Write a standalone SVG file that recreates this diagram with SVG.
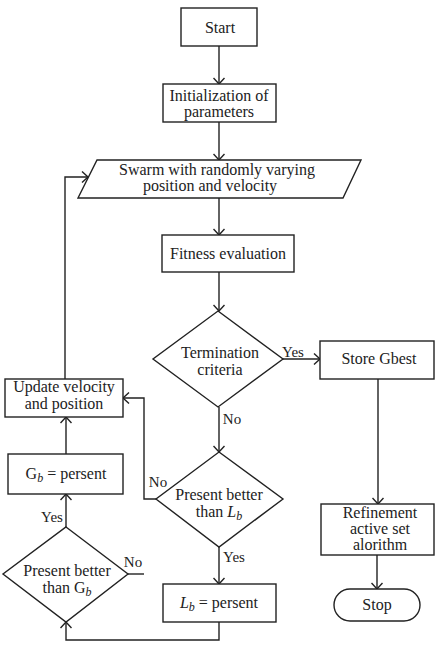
<svg xmlns="http://www.w3.org/2000/svg" width="440" height="649" viewBox="0 0 440 649">
<style>
.s{fill:#fff;stroke:#222;stroke-width:1.4}
.t{font-family:"Liberation Serif","Times New Roman",serif;font-size:16px;fill:#222;text-anchor:middle}
.l{font-family:"Liberation Serif","Times New Roman",serif;font-size:15px;fill:#222;text-anchor:middle}
.c{fill:none;stroke:#222;stroke-width:1.4}
.i{font-style:italic}
</style>
<defs>
<marker id="a" markerUnits="userSpaceOnUse" markerWidth="12" markerHeight="12" refX="7" refY="6" orient="auto">
<path d="M1,0.5 L7,6 L1,11.5" fill="none" stroke="#222" stroke-width="1.4"/>
</marker>
</defs>
<rect width="440" height="649" fill="#fff"/>
<g id="connectors" class="c">
<path d="M219,46 V84" marker-end="url(#a)"/>
<path d="M219,122 V160" marker-end="url(#a)"/>
<path d="M219,198 V235" marker-end="url(#a)"/>
<path d="M219,272 V311" marker-end="url(#a)"/>
<path d="M283,359 H320" marker-end="url(#a)"/>
<path d="M219,407 V452" marker-end="url(#a)"/>
<path d="M219,547 V584" marker-end="url(#a)"/>
<path d="M219,622 V640 H66 V622" marker-end="url(#a)"/>
<path d="M66,527 V494" marker-end="url(#a)"/>
<path d="M66,454 V417" marker-end="url(#a)"/>
<path d="M65,379 V177 H88" marker-end="url(#a)"/>
<path d="M156,499 H144 V398 H123" marker-end="url(#a)"/>
<path d="M128,574 H144"/>
<path d="M378,379 V504" marker-end="url(#a)"/>
<path d="M377,555 V589" marker-end="url(#a)"/>
</g>
<g id="labels">
<text class="l" x="293" y="357">Yes</text>
<text class="l" x="232" y="424">No</text>
<text class="l" x="158" y="487">No</text>
<text class="l" x="234" y="562">Yes</text>
<text class="l" x="133" y="567">No</text>
<text class="l" x="52" y="522">Yes</text>
</g>
<g id="start">
<rect class="s" x="181" y="8" width="76" height="38"/>
<text class="t" x="220" y="33">Start</text>
</g>
<g id="init">
<rect class="s" x="163" y="84" width="113" height="38"/>
<text class="t" x="219" y="101">Initialization of</text>
<text class="t" x="219" y="117">parameters</text>
</g>
<g id="swarm">
<polygon class="s" points="97,160 361,160 343,198 78,198"/>
<text class="t" x="217" y="175">Swarm with randomly varying</text>
<text class="t" x="210" y="191">position and velocity</text>
</g>
<g id="fitness">
<rect class="s" x="162" y="235" width="132" height="37"/>
<text class="t" x="228" y="259">Fitness evaluation</text>
</g>
<g id="termination">
<polygon class="s" points="218,311 283,359 218,407 153,359"/>
<text class="t" x="220" y="358">Termination</text>
<text class="t" x="220" y="375">criteria</text>
</g>
<g id="store">
<rect class="s" x="320" y="341" width="114" height="38"/>
<text class="t" x="379" y="364">Store Gbest</text>
</g>
<g id="update">
<rect class="s" x="5" y="379" width="118" height="38"/>
<text class="t" x="64" y="392">Update velocity</text>
<text class="t" x="64" y="409">and position</text>
</g>
<g id="gb">
<rect class="s" x="8" y="454" width="115" height="40"/>
<text class="t" x="66" y="479">G<tspan class="i" font-size="12" dy="3">b</tspan><tspan dy="-3"> = persent</tspan></text>
</g>
<g id="present-lb">
<polygon class="s" points="219,452 283,499 219,547 156,499"/>
<text class="t" x="219" y="500">Present better</text>
<text class="t" x="219" y="517">than <tspan class="i">L</tspan><tspan class="i" font-size="12" dy="3">b</tspan></text>
</g>
<g id="present-gb">
<polygon class="s" points="66,527 128,574 66,622 3,574"/>
<text class="t" x="67" y="576">Present better</text>
<text class="t" x="67" y="593">than G<tspan class="i" font-size="12" dy="3">b</tspan></text>
</g>
<g id="lb">
<rect class="s" x="163" y="584" width="113" height="38"/>
<text class="t" x="219" y="608"><tspan class="i">L</tspan><tspan class="i" font-size="12" dy="3">b</tspan><tspan dy="-3"> = persent</tspan></text>
</g>
<g id="refinement">
<rect class="s" x="321" y="504" width="113" height="51"/>
<text class="t" x="380" y="518">Refinement</text>
<text class="t" x="380" y="534">active set</text>
<text class="t" x="380" y="550">alorithm</text>
</g>
<g id="stop">
<rect class="s" x="334" y="589" width="86" height="32" rx="16" ry="16"/>
<text class="t" x="377" y="610">Stop</text>
</g>
</svg>
